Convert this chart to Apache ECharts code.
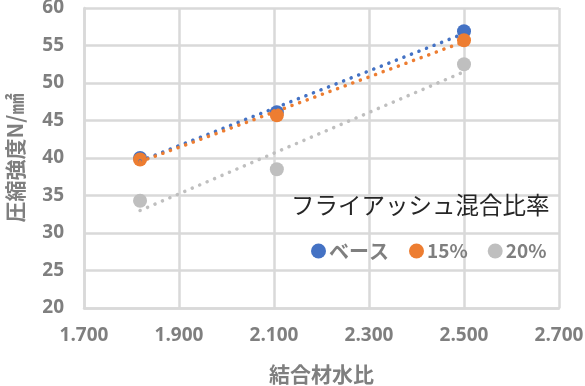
<!DOCTYPE html>
<html><head><meta charset="utf-8">
<script src="https://cdn.jsdelivr.net/npm/echarts@6/dist/echarts.min.js"></script>
<style>html,body{margin:0;padding:0;background:#fff}#c{width:585px;height:386px}</style>
</head><body><div id="c"></div>
<script>
const seriesNames = ['ベース', '15%', '20%'];
const xValues = [1.818, 2.106, 2.5];
const baseValues = [40.0, 46.1, 56.9];
const fa15Values = [39.8, 45.7, 55.7];
const fa20Values = [34.3, 38.5, 52.5];
const trendX = [1.818, 2.5];
const baseTrend = [39.6, 56.6];
const fa15Trend = [39.5, 55.5];
const fa20Trend = [33.0, 51.5];
const colors = ['#4472C4', '#ED7D31', '#BFBFBF'];

const pts = (xs, ys) => xs.map((x, i) => [x, ys[i]]);
const valueSets = [baseValues, fa15Values, fa20Values];
const trendSets = [baseTrend, fa15Trend, fa20Trend];
const font = "'Noto Sans CJK JP', 'Noto Sans', sans-serif";

const series = [];
trendSets.forEach((t, i) => {
  series.push({
    type: 'line', name: seriesNames[i] + '_trend', data: pts(trendX, t),
    symbol: 'none', silent: true, z: 3,
    lineStyle: { color: colors[i], width: 3.5, type: [0.1, 8], cap: 'round' }
  });
});
valueSets.forEach((v, i) => {
  series.push({
    type: 'scatter', name: seriesNames[i], data: pts(xValues, v),
    symbol: 'circle', symbolSize: 14, z: 2,
    itemStyle: { color: colors[i], opacity: 1 }
  });
});

const chart = echarts.init(document.getElementById('c'), null, { renderer: 'canvas' });
chart.setOption({
  animation: false,
  color: colors,
  title: {
    text: 'フライアッシュ混合比率', left: 286, top: 188,
    textStyle: { fontFamily: font, fontSize: 23.5, fontWeight: 'normal', color: '#262626' }
  },
  legend: {
    data: [
      { name: seriesNames[0], textStyle: { width: 64, fontSize: 20 } },
      { name: seriesNames[1] },
      { name: seriesNames[2] }
    ],
    left: 306, top: 236, icon: 'circle', itemWidth: 15, itemHeight: 15,
    itemGap: 20,
    textStyle: { fontFamily: font, fontSize: 19, fontWeight: 'bold', color: '#7f7f7f', padding: [0, 0, 0, -2] }
  },
  grid: { left: 84, right: 26, top: 8, bottom: 78, containLabel: false, outerBoundsMode: 'none' },
  xAxis: {
    type: 'value', min: 1.7, max: 2.7, interval: 0.2,
    name: '結合材水比', nameLocation: 'middle', nameGap: 56,
    nameTextStyle: { fontFamily: font, fontSize: 21, fontWeight: 'bold', color: '#7f7f7f' },
    axisLine: { show: true, lineStyle: { color: '#d9d9d9', width: 2.5 } },
    axisTick: { show: false },
    axisLabel: { margin: 18, fontFamily: "'Open Sans', sans-serif", fontSize: 19, fontWeight: 'bold', color: '#7f7f7f',
      formatter: v => v.toFixed(3) },
    splitLine: { show: true, lineStyle: { color: '#d9d9d9', width: 2.5 } }
  },
  yAxis: {
    type: 'value', min: 20, max: 60, interval: 5,
    name: '圧縮強度N/㎟', nameLocation: 'middle', nameGap: 58,
    nameTextStyle: { fontFamily: font, fontSize: 21, fontWeight: 'bold', color: '#7f7f7f' },
    axisLine: { show: true, lineStyle: { color: '#d9d9d9', width: 2.5 } },
    axisTick: { show: false },
    axisLabel: { margin: 20, fontFamily: "'Open Sans', sans-serif", fontSize: 19, fontWeight: 'bold', color: '#7f7f7f' },
    splitLine: { show: true, lineStyle: { color: '#d9d9d9', width: 2.5 } }
  },
  series: series
});
</script></body></html>
